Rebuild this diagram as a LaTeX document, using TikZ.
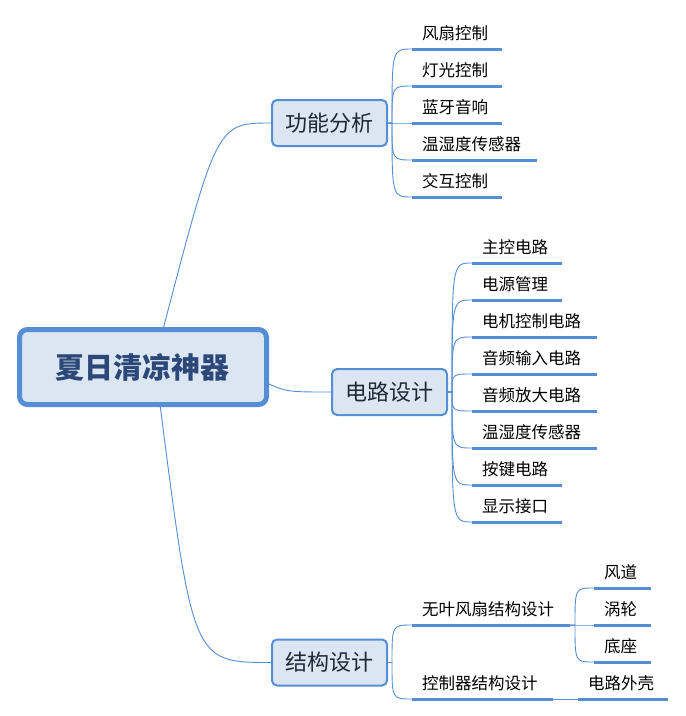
\documentclass[tikz,border=0pt]{standalone}
\usepackage{fontspec}
\setmainfont{Noto Sans CJK SC}
\usetikzlibrary{calc}
\definecolor{linec}{RGB}{85,142,213}
\definecolor{fillc}{RGB}{220,230,242}
\definecolor{roottext}{RGB}{44,72,120}
\definecolor{branchtext}{RGB}{30,40,55}
\tikzset{
  rootbox/.style={draw=linec, line width=5pt, fill=fillc, rounded corners=8pt,
    minimum width=247pt, minimum height=75pt, inner sep=0pt, outer sep=0pt,
    text=roottext, font=\fontsize{29}{32}\selectfont\bfseries},
  branchbox/.style={draw=linec, line width=2pt, fill=fillc, rounded corners=5pt,
    minimum width=115pt, minimum height=46pt, inner sep=0pt, outer sep=0pt,
    text=branchtext, font=\fontsize{22}{25}\selectfont},
  leaf/.style={anchor=south west, inner xsep=10pt, inner ysep=0pt, outer sep=0pt,
    minimum height=32pt, text width=#1, align=left, text=black,
    font=\fontsize{16.5}{19}\selectfont},
  uline/.style={draw=linec, line width=3pt},
  conn/.style={draw=linec, line width=0.9pt}
}
\newcommand\mmlink[2]{\draw[conn] let \p1=(#1), \p2=(#2) in (\p1) -- ++(5,0) .. controls (\x1+5pt,\y2) .. (\p2);}
\newcommand\uline[1]{\draw[uline] (#1.south west) -- (#1.south east);}
\begin{document}
\begin{tikzpicture}[x=1pt,y=-1pt]
\useasboundingbox (0,0) rectangle (686,716);
\fill[white] (0,0) rectangle (686,716);

% root and branches
\node[rootbox] (root) at (143,367) {夏日清凉神器};
\node[branchbox] (b1) at (329.5,123) {功能分析};
\node[branchbox] (b2) at (389.5,392) {电路设计};
\node[branchbox] (b3) at (329.5,662.5) {结构设计};

\coordinate (rt) at ([xshift=20pt]root.north);
\coordinate (rb) at ([xshift=17pt]root.south);
\coordinate (rr) at ([yshift=-16pt]root.east);
\draw[conn] (rt) .. controls ([xshift=54pt]rt |- b1.west) .. (b1.west);
\draw[conn] (rr) .. controls ($(rr)+(21,9)$) .. (b2.west);
\draw[conn] (rb) .. controls ([xshift=33pt]rb |- b3.west) .. (b3.west);

% group 1
\node[leaf=70pt]  (l1a) at (412,49)  {风扇控制};
\node[leaf=70pt]  (l1b) at (412,86)  {灯光控制};
\node[leaf=70pt]  (l1c) at (412,123) {蓝牙音响};
\node[leaf=105pt] (l1d) at (412,160) {温湿度传感器};
\node[leaf=70pt]  (l1e) at (412,197) {交互控制};
\foreach \q in {l1a,l1b,l1c,l1d,l1e}{\uline{\q}\mmlink{b1.east}{\q.south west}}

% group 2
\node[leaf=70pt]  (l2a) at (472,263) {主控电路};
\node[leaf=70pt]  (l2b) at (472,300) {电源管理};
\node[leaf=105pt] (l2c) at (472,337) {电机控制电路};
\node[leaf=105pt] (l2d) at (472,374) {音频输入电路};
\node[leaf=105pt] (l2e) at (472,411) {音频放大电路};
\node[leaf=105pt] (l2f) at (472,448) {温湿度传感器};
\node[leaf=70pt]  (l2g) at (472,485) {按键电路};
\node[leaf=70pt]  (l2h) at (472,522) {显示接口};
\foreach \q in {l2a,l2b,l2c,l2d,l2e,l2f,l2g,l2h}{\uline{\q}\mmlink{b2.east}{\q.south west}}

% group 3
\node[leaf=138pt] (s1) at (412,625) {无叶风扇结构设计};
\node[leaf=121pt] (s2) at (412,699) {控制器结构设计};
\foreach \q in {s1,s2}{\uline{\q}\mmlink{b3.east}{\q.south west}}

\node[leaf=37pt] (t1) at (594,588) {风道};
\node[leaf=37pt] (t2) at (594,625) {涡轮};
\node[leaf=37pt] (t3) at (594,662) {底座};
\foreach \q in {t1,t2,t3}{\uline{\q}\mmlink{s1.south east}{\q.south west}}

\node[leaf=70pt] (u1) at (578,699) {电路外壳};
\uline{u1}
\draw[conn] (s2.south east) -- (u1.south west);
\end{tikzpicture}
\end{document}
